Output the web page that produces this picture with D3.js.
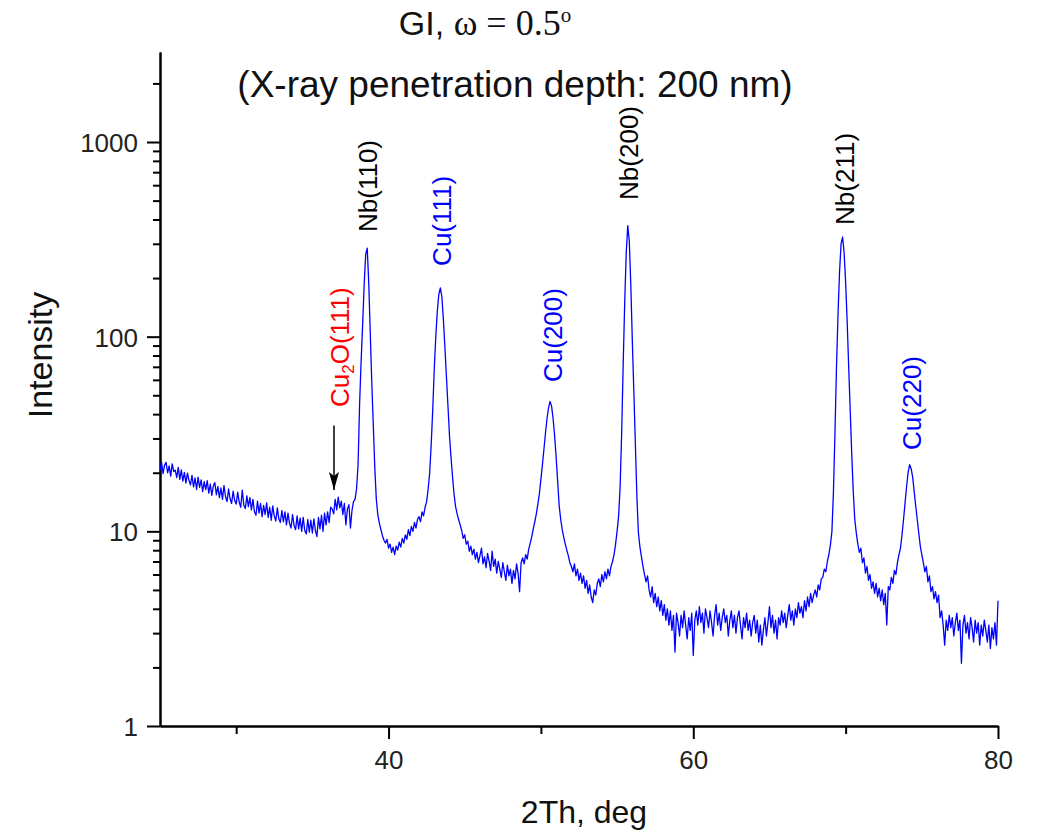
<!DOCTYPE html>
<html>
<head>
<meta charset="utf-8">
<script src="https://cdn.jsdelivr.net/npm/d3@7"></script>
<style>
  body { margin: 0; background: #fff; }
  text { font-family: "Liberation Sans", Arial, sans-serif; }
</style>
</head>
<body>
<svg id="chart" width="1041" height="832"></svg>
<script>
/* GI XRD scan, log intensity */

// scan settings (2Th, deg)
const scanStart = 25.0;
const scanStep = 0.1;

// intensity, one row per degree
const intensity = [
  20.6, 22.7, 19.8, 21.9, 22.6, 20.0, 21.7, 19.2, 22.2, 20.3,
  20.6, 18.9, 21.3, 18.5, 20.7, 18.1, 20.1, 17.7, 19.9, 18.3,
  17.3, 19.4, 16.9, 18.8, 16.4, 19.0, 16.8, 18.4, 16.0, 18.0,
  16.4, 18.2, 15.7, 17.5, 15.3, 17.1, 17.8, 15.4, 17.0, 14.9,
  16.7, 14.6, 17.2, 15.1, 14.2, 16.5, 14.7, 13.9, 16.1, 14.4,
  13.8, 15.9, 14.1, 13.3, 16.3, 13.6, 13.1, 15.2, 13.4, 14.9,
  12.9, 14.6, 12.6, 12.1, 14.3, 12.4, 13.9, 11.9, 13.6, 12.2,
  14.0, 11.8, 13.3, 11.4, 13.5, 12.0, 11.3, 13.2, 11.6, 11.1,
  12.8, 11.2, 12.6, 10.8, 12.4, 11.0, 10.4, 12.2, 10.7, 10.2,
  12.0, 10.3, 11.7, 10.0, 11.8, 10.1, 9.7, 11.5, 9.9, 11.4,
  9.8, 11.6, 10.1, 9.4, 11.8, 10.3, 12.1, 10.0, 12.4, 10.8,
  12.6, 11.1, 13.3, 13.0, 12.3, 14.6, 12.9, 15.0, 13.2, 14.3,
  12.2, 13.9, 10.8, 13.0, 13.7, 10.4, 12.8, 14.2, 14.6, 16.5,
  22, 45, 75, 115, 185, 265, 285, 190, 105, 58,
  35, 21, 14.5, 12.1, 11.0, 10.2, 9.5, 9.0, 8.7, 9.1,
  8.2, 8.6, 7.8, 8.3, 7.6, 8.4, 8.0, 8.8, 8.3, 9.2,
  8.7, 9.6, 9.1, 10.2, 9.5, 10.6, 10.0, 11.1, 10.4, 11.5,
  11.9, 11.2, 12.6, 12.0, 13.3, 14.2, 16.5, 20, 28, 42,
  68, 100, 135, 165, 178, 160, 122, 88, 62, 44,
  31, 24, 19, 15.5, 13.4, 12.3, 11.5, 10.8, 10.1, 9.2,
  9.6, 8.6, 8.9, 7.9, 8.4, 7.6, 8.1, 7.2, 7.8, 6.9,
  7.5, 8.2, 6.8, 7.4, 6.5, 7.7, 7.0, 6.3, 7.9, 6.6,
  7.2, 6.1, 7.0, 6.4, 5.8, 6.9, 6.2, 5.6, 6.7, 5.9,
  6.4, 5.4, 6.3, 5.7, 6.8, 6.1, 4.9, 6.9, 7.3, 6.8,
  7.6, 7.2, 8.1, 8.7, 9.4, 10.3, 11.2, 12.3, 13.8, 15.6,
  18.5, 22, 26.5, 32, 38, 43, 46.5, 44, 38, 31,
  24, 18, 13.5, 11.5, 10.2, 9.3, 8.6, 8.0, 7.5, 6.9,
  6.6, 6.2, 6.8, 5.9, 6.4, 5.6, 6.1, 5.4, 5.9, 5.1,
  5.6, 4.8, 5.3, 4.6, 4.3, 5.0, 4.7, 5.4, 5.7, 5.2,
  6.0, 5.5, 6.2, 5.7, 6.4, 5.9, 6.6, 7.0, 7.6, 8.6,
  10.0, 12, 17, 32, 72, 150, 270, 372, 310, 185,
  95, 52, 28, 15, 9.8, 8.3, 7.4, 6.6, 6.0, 5.5,
  5.9, 5.0, 4.6, 5.2, 4.3, 4.8, 4.1, 4.6, 3.9, 4.4,
  3.7, 4.2, 3.5, 4.0, 3.3, 3.9, 3.1, 3.7, 2.4, 3.8,
  3.4, 2.9, 3.7, 3.2, 3.9, 3.3, 2.8, 3.6, 3.1, 3.8,
  2.3, 3.5, 3.9, 3.3, 4.1, 3.4, 3.8, 3.0, 4.0, 3.6,
  3.2, 3.9, 3.4, 2.9, 3.7, 4.2, 3.3, 3.8, 3.1, 3.6,
  4.0, 3.4, 3.7, 2.9, 3.5, 3.9, 3.2, 3.7, 3.0, 3.6,
  3.9, 3.3, 2.8, 3.6, 3.2, 3.8, 3.1, 3.5, 2.9, 3.4,
  3.7, 3.0, 3.5, 2.7, 3.3, 2.6, 3.1, 3.6, 2.9, 3.4,
  4.1, 3.2, 3.7, 3.0, 3.5, 2.8, 3.6, 3.3, 3.9, 3.4,
  3.8, 3.2, 3.7, 4.2, 3.5, 3.9, 3.3, 4.0, 3.6, 4.3,
  3.8, 4.1, 3.6, 4.4, 3.9, 4.6, 4.1, 4.8, 4.3, 4.7,
  5.0, 4.6, 5.3, 5.0, 5.7, 5.8, 6.4, 6.2, 7.0, 7.6,
  8.5, 10, 16, 32, 70, 130, 215, 300, 325, 270,
  190, 120, 70, 42, 25, 16, 11.5, 9.8, 8.6, 7.8,
  8.2, 6.9, 7.3, 6.1, 6.6, 5.6, 6.0, 5.1, 5.5, 4.8,
  5.4, 4.6, 5.1, 4.4, 5.0, 4.2, 4.8, 3.3, 5.2, 5.0,
  5.8, 5.4, 6.3, 6.0, 6.9, 7.6, 8.2, 9.6, 11.5, 14,
  17, 20, 22, 21, 19, 16, 13.5, 11.5, 9.8, 8.4,
  7.6, 6.9, 6.2, 6.6, 5.5, 5.9, 4.9, 5.2, 4.5, 4.9,
  4.3, 4.7, 3.6, 3.9, 3.3, 2.6, 3.5, 3.1, 3.7, 3.2,
  3.6, 2.9, 3.4, 3.8, 3.1, 3.5, 2.1, 3.3, 3.7, 3.0,
  3.4, 2.8, 3.6, 3.2, 2.7, 3.5, 3.0, 3.4, 2.6, 3.3,
  2.9, 3.5, 3.1, 2.7, 3.3, 2.5, 3.2, 2.8, 3.4, 2.6,
  4.4
];

// peak labels
const peakNames = ["Nb(110)", "Cu(111)", "Cu(200)", "Nb(200)", "Nb(211)", "Cu(220)"];
const peakAngles = [38.65, 43.5, 50.75, 55.75, 69.95, 74.35];
const peakLabelBase = [345, 231, 58.5, 504, 375, 26.2];
const peakColors = ["#000000", "#0000ff", "#0000ff", "#000000", "#000000", "#0000ff"];

// Cu2O marker (angle, arrow top, arrow tip, label base)
const oxideAngle = 36.42;
const oxideArrow = [35, 16.3];
const oxideLabelBase = 43.5;

// axes
const xDomain = [25, 80];
const xMajor = [40, 60, 80];
const xMinor = [30, 50, 70];
const yDomain = [1, 2900];
const yMajor = [1, 10, 100, 1000];
const yMinor = [2, 3, 4, 5, 6, 7, 8, 9, 20, 30, 40, 50, 60, 70, 80, 90,
                200, 300, 400, 500, 600, 700, 800, 900, 2000];

const scan = intensity.map(function(v, i) {
  return { t: scanStart + i * scanStep, v: v };
});

//* Chart *//
const svg = d3.select("#chart");
const margin = { top: 52, right: 43, bottom: 106, left: 160 };
const width = 1041 - margin.left - margin.right,
      height = 832 - margin.top - margin.bottom;

const g = svg.append("g")
    .attr("transform", "translate(" + margin.left + "," + margin.top + ")");

const x = d3.scaleLinear().domain(xDomain).range([0, width]);
const y = d3.scaleLog().domain(yDomain).range([height, 0]);

// minor ticks first, then majors on top
g.append("g")
    .attr("class", "x minor")
    .attr("transform", "translate(0," + height + ")")
    .call(d3.axisBottom(x).tickValues(xMinor).tickSize(8).tickSizeOuter(0).tickFormat(""));

g.append("g")
    .attr("class", "y minor")
    .call(d3.axisLeft(y).tickValues(yMinor).tickSize(7).tickSizeOuter(0).tickFormat(""));

const xAxis = g.append("g")
    .attr("class", "x axis")
    .attr("transform", "translate(0," + height + ")")
    .call(d3.axisBottom(x).tickValues(xMajor).tickSize(13).tickSizeOuter(0).tickPadding(12));

const yAxis = g.append("g")
    .attr("class", "y axis")
    .call(d3.axisLeft(y).tickValues(yMajor).tickSize(13).tickSizeOuter(0).tickPadding(9)
      .tickFormat(d3.format("d")));

g.selectAll(".axis path, .minor path").attr("stroke", "#000").attr("stroke-width", 2);
g.selectAll(".axis line, .minor line").attr("stroke", "#000").attr("stroke-width", 2);
g.selectAll(".axis text")
    .attr("font-family", "'Liberation Sans', Arial, sans-serif")
    .attr("font-size", "26px")
    .attr("fill", "#222");
yAxis.selectAll("text").attr("dy", "0.36em");

// data line
g.append("path")
    .datum(scan)
    .attr("fill", "none")
    .attr("stroke", "#0000ff")
    .attr("stroke-width", 1.3)
    .attr("stroke-linejoin", "round")
    .attr("d", d3.line().x(function(d) { return x(d.t); }).y(function(d) { return y(d.v); }));

// peak labels, rotated
g.selectAll(".peak")
    .data(peakNames)
    .enter().append("text")
    .attr("class", "peak")
    .attr("transform", function(d, i) {
      return "translate(" + x(peakAngles[i]) + "," + y(peakLabelBase[i]) + ") rotate(-90)";
    })
    .attr("dy", "0.36em")
    .attr("font-size", "26px")
    .attr("fill", function(d, i) { return peakColors[i]; })
    .text(function(d) { return d; });

// Cu2O label with subscript
const oxide = g.append("text")
    .attr("transform", "translate(" + (x(oxideAngle) + 6) + "," + y(oxideLabelBase) + ") rotate(-90)")
    .attr("dy", "0.36em")
    .attr("font-size", "26px")
    .attr("fill", "#ff0000");
oxide.append("tspan").text("Cu");
oxide.append("tspan").attr("font-size", "17px").attr("dy", "0.3em").text("2");
oxide.append("tspan").attr("dy", "-0.2em").text("O(111)");

// arrow to the Cu2O bump
svg.append("defs").append("marker")
    .attr("id", "head")
    .attr("viewBox", "0 -5 18 10")
    .attr("refX", 18).attr("refY", 0)
    .attr("markerWidth", 18).attr("markerHeight", 10)
    .attr("markerUnits", "userSpaceOnUse")
    .attr("orient", "auto")
    .append("path")
    .attr("d", "M0,-5L18,0L0,5L4,0Z")
    .attr("fill", "#000");

g.append("line")
    .attr("x1", x(oxideAngle)).attr("x2", x(oxideAngle))
    .attr("y1", y(oxideArrow[0])).attr("y2", y(oxideArrow[1]))
    .attr("stroke", "#000").attr("stroke-width", 1.5)
    .attr("marker-end", "url(#head)");

// axis titles
svg.append("text")
    .attr("transform", "translate(52,355) rotate(-90)")
    .attr("text-anchor", "middle")
    .attr("font-size", "34px")
    .attr("fill", "#111")
    .text("Intensity");

svg.append("text")
    .attr("x", 584).attr("y", 823)
    .attr("text-anchor", "middle")
    .attr("font-size", "32px")
    .attr("fill", "#111")
    .text("2Th, deg");

// title lines
const title = svg.append("text")
    .attr("x", 485).attr("y", 35)
    .attr("text-anchor", "middle")
    .attr("font-size", "34px")
    .attr("fill", "#111");
title.append("tspan").text("GI, ");
title.append("tspan").attr("font-family", "'Liberation Serif', 'Times New Roman', serif")
    .attr("font-size", "36px").text("\u03c9 = 0.5");
title.append("tspan").attr("font-family", "'Liberation Serif', 'Times New Roman', serif")
    .attr("font-size", "21px").attr("dy", "-0.6em").text("o");

svg.append("text")
    .attr("x", 515).attr("y", 97)
    .attr("text-anchor", "middle")
    .attr("font-family", "Lato, 'Open Sans', sans-serif")
    .attr("font-size", "37px")
    .attr("fill", "#111")
    .text("(X-ray penetration depth: 200 nm)");
</script>
</body>
</html>
